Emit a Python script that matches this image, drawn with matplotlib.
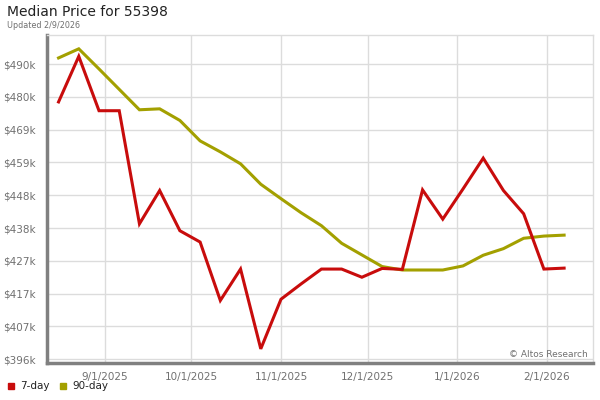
import matplotlib
matplotlib.use("Agg")
import matplotlib.pyplot as plt
import numpy as np
import datetime as dt
from matplotlib.patches import Rectangle

# ---- data ----
start_date = dt.date(2025, 8, 16)
n_weeks = 26
dates = [start_date + dt.timedelta(days=7 * i) for i in range(n_weeks)]

price_7day = [478.5, 493.0, 475.7, 475.7, 439.7, 450.3, 437.5, 433.9, 415.3, 425.3,
              399.9, 415.7, 420.6, 425.3, 425.3, 422.7, 425.5, 425.2, 450.5, 441.2,
              450.8, 460.6, 450.3, 442.9, 425.3, 425.6]
price_90day = [492.5, 495.4, 489.0, 482.5, 476.0, 476.3, 472.6, 466.1, 462.6, 458.8,
               452.3, 447.7, 443.2, 439.1, 433.5, 429.8, 426.1, 425.0, 425.0, 425.0,
               426.3, 429.7, 431.8, 435.1, 435.8, 436.1]
price_7day = [v * 1000 for v in price_7day]
price_90day = [v * 1000 for v in price_90day]

ytick_values = [396600, 407040, 417480, 427920, 438360, 448800, 459240, 469680, 480120, 490560]
ytick_labels = ["$396k", "$407k", "$417k", "$427k", "$438k", "$448k", "$459k", "$469k", "$480k", "$490k"]
xtick_dates = [dt.date(2025, 9, 1), dt.date(2025, 10, 1), dt.date(2025, 11, 1),
               dt.date(2025, 12, 1), dt.date(2026, 1, 1), dt.date(2026, 2, 1)]
xtick_labels = ["9/1/2025", "10/1/2025", "11/1/2025", "12/1/2025", "1/1/2026", "2/1/2026"]

title = "Median Price for 55398"
subtitle = "Updated 2/9/2026"
series_names = ["7-day", "90-day"]
colors = ["#c80c0c", "#a3a000"]

# ---- figure ----
fig = plt.figure(figsize=(6, 4), dpi=100)
ax = fig.add_axes([47 / 600, 1 - 363 / 400, (593 - 47) / 600, (363 - 35) / 400])

ax.plot(dates, price_7day, color=colors[0], lw=2.2, solid_joinstyle="miter", zorder=3)
ax.plot(dates, price_90day, color=colors[1], lw=2.2, solid_joinstyle="miter", zorder=2)

ax.set_ylim(395400, 499800)
ax.set_xlim(dt.date(2025, 8, 12), dt.date(2025, 8, 12) + dt.timedelta(days=189.4))

ax.set_yticks(ytick_values)
ax.set_yticklabels(ytick_labels)
ax.set_xticks(xtick_dates)
ax.set_xticklabels(xtick_labels)

ax.tick_params(axis="both", length=0, labelsize=7.5, labelcolor="#707070")
ax.tick_params(axis="y", pad=8)
ax.tick_params(axis="x", pad=6.5)

ax.grid(True, color="#dcdcdc", lw=1.0, zorder=0)
ax.set_axisbelow(True)

for side in ["top", "right"]:
    ax.spines[side].set_color("#dcdcdc")
    ax.spines[side].set_linewidth(1.0)
for side in ["left", "bottom"]:
    ax.spines[side].set_color("#808080")
    ax.spines[side].set_linewidth(2.5)

ax.text(0.99, 0.012, "\u00a9 Altos Research", transform=ax.transAxes, ha="right", va="bottom",
        fontsize=6.5, color="#707070")

fig.text(7 / 600, 1 - 12 / 400, title, ha="left", va="center", fontsize=10, color="#222222")
fig.text(7 / 600, 1 - 25 / 400, subtitle, ha="left", va="center", fontsize=5.8, color="#707070")

# legend
leg_y = 1 - 386 / 400
fig.patches.append(Rectangle((8 / 600, leg_y - 3 / 400), 6 / 600, 6 / 400, color=colors[0],
                             transform=fig.transFigure, figure=fig))
fig.text(20 / 600, leg_y, series_names[0], ha="left", va="center", fontsize=7.5, color="#222222")
fig.patches.append(Rectangle((60 / 600, leg_y - 3 / 400), 6 / 600, 6 / 400, color=colors[1],
                             transform=fig.transFigure, figure=fig))
fig.text(72 / 600, leg_y, series_names[1], ha="left", va="center", fontsize=7.5, color="#222222")

fig.savefig("out.png", dpi=100)
